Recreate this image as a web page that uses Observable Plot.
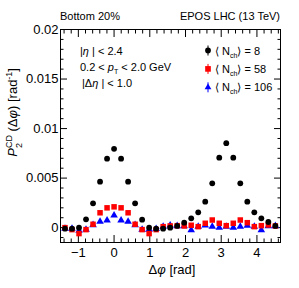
<!DOCTYPE html>
<html>
<head>
<meta charset="utf-8">
<script src="https://cdn.jsdelivr.net/npm/d3@7"></script>
<script src="https://cdn.jsdelivr.net/npm/@observablehq/plot@0.6"></script>
<style>
html,body{margin:0;padding:0;background:#fff;}
svg{font-family:"Liberation Sans",Arial,sans-serif;}
</style>
</head>
<body>
<div id="chart"></div>
<script>
// Bin index k: Δφ = k·π/16
const binIndex = d3.range(-7, 24);
const nch8 = [-0.0001,-0.0001,0.0000,0.00084,0.00245,0.00464,0.00696,0.00796,0.00696,0.00464,0.00245,0.0008,0.0000,-0.0001,-0.0001,0.0000,0.00017,0.0005,0.00094,0.00155,0.00262,0.00447,0.00706,0.00853,0.00706,0.00447,0.00262,0.00155,0.00094,0.00057,0.00017];
const nch58 = [0.0000,-0.0002,-0.0006,-0.0002,0.00034,0.0015,0.0020,0.0021,0.0020,0.0015,0.00034,-0.0002,-0.0006,-0.0002,0.0001,0.00017,0.0002,0.00017,0.00024,0.0001,0.00044,0.00077,0.00044,0.0002,0.00044,0.00077,0.0005,0.0001,0.0002,0.00027,0.00017];
const nch106 = [-0.0001,-0.0001,-0.0003,-0.0002,0.00027,0.0006,0.00074,0.00124,0.00074,0.0006,0.00027,-0.0002,-0.0002,-0.00013,0.0001,0.00024,0.00017,0.00017,-0.00024,0.0001,0.00024,0.0001,0.0000,0.0001,0.0000,0.0001,0.0002,0.0001,-0.00024,0.00017,0.00017];
const seriesNames = ["8", "58", "106"];
const xMajor = [-1, 0, 1, 2, 3, 4];
const yMajor = [0, 0.005, 0.01, 0.015, 0.02];
const yLabels = ["0", "0.005", "0.01", "0.015", "0.02"];

const dphi = binIndex.map(k => k * Math.PI / 16);
const mk = vals => vals.map((v, i) => ({x: dphi[i], y: v}));
const d8 = mk(nch8), d58 = mk(nch58), d106 = mk(nch106);

const xMinor = d3.range(-14, 47, 2).map(v => v / 10).filter(v => !xMajor.includes(Math.round(v*10)/10));
const yMinor = d3.range(-1, 21).map(v => v / 1000).filter(v => !yMajor.some(m => Math.abs(m - v) < 1e-9));

const plot = Plot.plot({
  width: 299,
  height: 288,
  marginLeft: 60,
  marginRight: 19,
  marginTop: 29,
  marginBottom: 46,
  style: {fontFamily: "Liberation Sans, Arial, sans-serif", background: "#fff", color: "#000"},
  x: {domain: [-1.5, 4.66]},
  y: {domain: [-0.0015, 0.02]},
  marks: [
    Plot.axisX(xMajor, {anchor: "bottom", tickSize: -7, tickPadding: 12, fontSize: 13, label: null, tickFormat: d => d < 0 ? "\u2212" + Math.abs(d) : String(d)}),
    Plot.axisX(xMinor, {anchor: "bottom", tickSize: -3.5, text: null, label: null}),
    Plot.axisX(xMajor, {anchor: "top", tickSize: -7, text: null, label: null}),
    Plot.axisX(xMinor, {anchor: "top", tickSize: -3.5, text: null, label: null}),
    Plot.axisY(yMajor, {anchor: "left", tickSize: -7, tickPadding: 9, fontSize: 13, label: null, tickFormat: (d, i) => yLabels[i]}),
    Plot.axisY(yMinor, {anchor: "left", tickSize: -3.5, text: null, label: null}),
    Plot.axisY(yMajor, {anchor: "right", tickSize: -7, text: null, label: null}),
    Plot.axisY(yMinor, {anchor: "right", tickSize: -3.5, text: null, label: null}),
    Plot.frame({stroke: "#000", strokeWidth: 1}),
    Plot.dot(d106, {x: "x", y: "y", symbol: "triangle", r: 2.8, fill: "#0000ff", stroke: "none"}),
    Plot.dot(d58, {x: "x", y: "y", symbol: "square", r: 3.1, fill: "#ff0000", stroke: "none"}),
    Plot.dot(d8, {x: "x", y: "y", symbol: "circle", r: 2.9, fill: "#000", stroke: "none"})
  ]
});

document.getElementById("chart").appendChild(plot);
const svg = d3.select(plot);
const F = "Liberation Sans, Arial, sans-serif";
const txt = (x, y, size, anchor) => svg.append("text").attr("x", x).attr("y", y)
  .attr("font-size", size).attr("font-family", F).attr("text-anchor", anchor || "start").attr("fill", "#000");

// Header
txt(60, 20, 11).text("Bottom 20%");
txt(280, 20, 11, "end").text("EPOS LHC (13 TeV)");

// X title
const xt = txt(172, 274, 13, "middle");
xt.append("tspan").text("\u0394");
xt.append("tspan").attr("font-style", "italic").text("\u03c6");
xt.append("tspan").text(" [rad]");

// Y title
const yt = svg.append("text").attr("transform", "translate(17,68) rotate(-90)")
  .attr("text-anchor", "end").attr("font-size", 13).attr("font-family", F).attr("fill", "#000");
yt.append("tspan").attr("font-style", "italic").text("P");
yt.append("tspan").attr("font-size", 9).attr("dy", -5).text("CD");
yt.append("tspan").attr("font-size", 9).attr("dx", -13).attr("dy", 10).text("2");
yt.append("tspan").attr("dy", -5).attr("dx", 8).text(" (\u0394");
yt.append("tspan").attr("font-style", "italic").text("\u03c6");
yt.append("tspan").text(") [rad");
yt.append("tspan").attr("font-size", 9).attr("dy", -5).text("-1");
yt.append("tspan").attr("dy", 5).text("]");

// Annotations
const a1 = txt(80, 55, 11);
a1.append("tspan").text("|");
a1.append("tspan").attr("font-style", "italic").text("\u03b7");
a1.append("tspan").text(" | < 2.4");
const a2 = txt(80, 71, 11);
a2.append("tspan").text("0.2 < ");
a2.append("tspan").attr("font-style", "italic").text("p");
a2.append("tspan").attr("font-size", 7).attr("dy", 3).text("T");
a2.append("tspan").attr("dy", -3).text(" < 2.0 GeV");
const a3 = txt(82, 87, 11);
a3.append("tspan").text("|\u0394");
a3.append("tspan").attr("font-style", "italic").text("\u03b7");
a3.append("tspan").text(" | < 1.0");

// Legend
const legendRows = [
  {name: seriesNames[0], color: "#000", sym: d3.symbolCircle, size: 26},
  {name: seriesNames[1], color: "#ff0000", sym: d3.symbolSquare, size: 32},
  {name: seriesNames[2], color: "#0000ff", sym: d3.symbolTriangle, size: 20}
];
legendRows.forEach((r, i) => {
  const cy = 50.5 + i * 18.4;
  const g = svg.append("g").attr("transform", `translate(208,${cy})`);
  g.append("line").attr("y1", -5).attr("y2", 5).attr("stroke", r.color).attr("stroke-width", 1);
  g.append("path").attr("d", d3.symbol(r.sym, r.size)()).attr("fill", r.color);
  const t = txt(215, cy + 4, 11);
  t.append("tspan").text("\u27e8 N");
  t.append("tspan").attr("font-size", 7).attr("dy", 3).text("ch");
  t.append("tspan").attr("dy", -3).text("\u27e9 = " + r.name);
});
</script>
</body>
</html>
